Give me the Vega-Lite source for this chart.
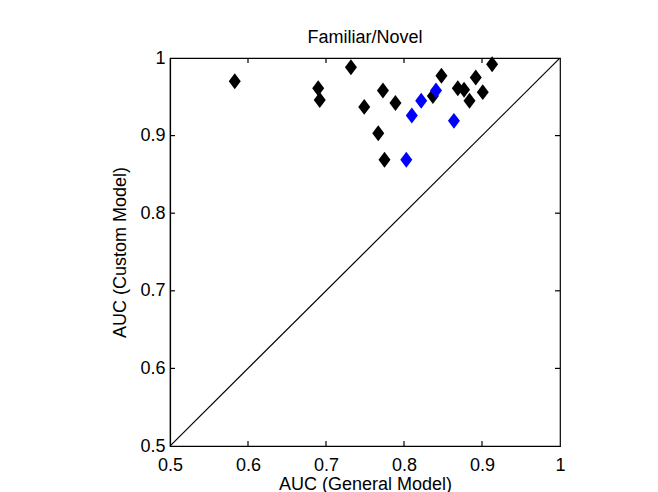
{
  "$schema": "https://vega.github.io/schema/vega-lite/v6.json",
  "autosize": {"type": "none"},
  "padding": {"left": 170, "top": 58, "right": 98, "bottom": 46},
  "width": 390,
  "height": 388,
  "background": "white",
  "config": {
    "font": "Liberation Sans",
    "view": {"stroke": "black", "strokeWidth": 1.2},
    "axis": {"grid": false, "domainColor": "black", "labelColor": "black", "titleColor": "black", "labelFontSize": 18, "titleFontSize": 18, "titleFontWeight": "normal", "domainWidth": 1.2, "labelFlush": false, "labelOverlap": false, "ticks": false}
  },
  "title": {"text": "Familiar/Novel", "fontSize": 18, "fontWeight": "normal", "color": "black", "offset": 2},
  "datasets": {
    "pts": [
      {"general": 0.583, "custom": 0.970, "group": "black"},
      {"general": 0.690, "custom": 0.961, "group": "black"},
      {"general": 0.692, "custom": 0.946, "group": "black"},
      {"general": 0.732, "custom": 0.988, "group": "black"},
      {"general": 0.749, "custom": 0.937, "group": "black"},
      {"general": 0.773, "custom": 0.958, "group": "black"},
      {"general": 0.767, "custom": 0.903, "group": "black"},
      {"general": 0.775, "custom": 0.869, "group": "black"},
      {"general": 0.789, "custom": 0.942, "group": "black"},
      {"general": 0.837, "custom": 0.951, "group": "black"},
      {"general": 0.848, "custom": 0.977, "group": "black"},
      {"general": 0.869, "custom": 0.961, "group": "black"},
      {"general": 0.877, "custom": 0.959, "group": "black"},
      {"general": 0.884, "custom": 0.945, "group": "black"},
      {"general": 0.892, "custom": 0.975, "group": "black"},
      {"general": 0.901, "custom": 0.956, "group": "black"},
      {"general": 0.913, "custom": 0.992, "group": "black"},
      {"general": 0.803, "custom": 0.869, "group": "blue"},
      {"general": 0.810, "custom": 0.926, "group": "blue"},
      {"general": 0.822, "custom": 0.945, "group": "blue"},
      {"general": 0.841, "custom": 0.958, "group": "blue"},
      {"general": 0.864, "custom": 0.919, "group": "blue"}
    ],
    "diag": [
      {"general": 0.5, "custom": 0.5},
      {"general": 1.0, "custom": 1.0}
    ],
    "xt": [{"general": 0.6}, {"general": 0.7}, {"general": 0.8}, {"general": 0.9}],
    "yt": [{"custom": 0.6}, {"custom": 0.7}, {"custom": 0.8}, {"custom": 0.9}]
  },
  "layer": [
    {
      "data": {"name": "diag"},
      "mark": {"type": "line", "color": "black", "strokeWidth": 1.2, "clip": true},
      "encoding": {
        "x": {"field": "general", "type": "quantitative", "scale": {"domain": [0.5, 1], "nice": false, "zero": false},
              "axis": {"orient": "bottom", "title": "AUC (General Model)", "values": [0.5, 0.6, 0.7, 0.8, 0.9, 1], "format": "~g", "labelPadding": 10, "titlePadding": 1}},
        "y": {"field": "custom", "type": "quantitative", "scale": {"domain": [0.5, 1], "nice": false, "zero": false},
              "axis": {"orient": "left", "title": "AUC (Custom Model)", "values": [0.5, 0.6, 0.7, 0.8, 0.9, 1], "format": "~g", "labelPadding": 5, "titlePadding": 10}}
      }
    },
    {
      "data": {"name": "xt"},
      "mark": {"type": "rule", "color": "black", "strokeWidth": 1.2, "y2Offset": -5},
      "encoding": {
        "x": {"field": "general", "type": "quantitative"},
        "y": {"datum": 0.5, "type": "quantitative"},
        "y2": {"datum": 0.5}
      }
    },
    {
      "data": {"name": "xt"},
      "mark": {"type": "rule", "color": "black", "strokeWidth": 1.2, "y2Offset": 5},
      "encoding": {
        "x": {"field": "general", "type": "quantitative"},
        "y": {"datum": 1, "type": "quantitative"},
        "y2": {"datum": 1}
      }
    },
    {
      "data": {"name": "yt"},
      "mark": {"type": "rule", "color": "black", "strokeWidth": 1.2, "x2Offset": 5},
      "encoding": {
        "y": {"field": "custom", "type": "quantitative"},
        "x": {"datum": 0.5, "type": "quantitative"},
        "x2": {"datum": 0.5}
      }
    },
    {
      "data": {"name": "yt"},
      "mark": {"type": "rule", "color": "black", "strokeWidth": 1.2, "x2Offset": -5},
      "encoding": {
        "y": {"field": "custom", "type": "quantitative"},
        "x": {"datum": 1, "type": "quantitative"},
        "x2": {"datum": 1}
      }
    },
    {
      "data": {"name": "pts"},
      "mark": {"type": "point", "filled": true, "opacity": 1, "size": 144, "shape": "M0,-1.33L1,0L0,1.33L-1,0Z"},
      "encoding": {
        "x": {"field": "general", "type": "quantitative"},
        "y": {"field": "custom", "type": "quantitative"},
        "color": {"field": "group", "type": "nominal", "scale": {"domain": ["black", "blue"], "range": ["#000000", "#0000ff"]}, "legend": null}
      }
    }
  ]
}
